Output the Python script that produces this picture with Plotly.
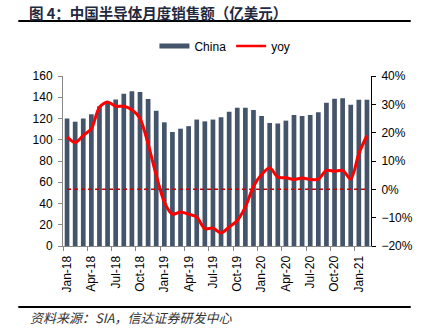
import plotly.graph_objects as go

months = ["Jan-18","Feb-18","Mar-18","Apr-18","May-18","Jun-18","Jul-18","Aug-18","Sep-18","Oct-18","Nov-18","Dec-18",
          "Jan-19","Feb-19","Mar-19","Apr-19","May-19","Jun-19","Jul-19","Aug-19","Sep-19","Oct-19","Nov-19","Dec-19",
          "Jan-20","Feb-20","Mar-20","Apr-20","May-20","Jun-20","Jul-20","Aug-20","Sep-20","Oct-20","Nov-20","Dec-20",
          "Jan-21","Feb-21"]
china = [120, 117, 120, 124, 131.5, 135, 138, 143.4, 145.6, 145, 138.4, 127.4,
         116.4, 107.3, 110.4, 112.8, 119, 117.3, 119, 121.1, 126.4, 130.2, 130.2, 128,
         122.4, 115.8, 115.3, 118, 123.3, 122.4, 123.3, 125.8, 134.9, 138.7, 139, 133,
         137.7, 137.7]
yoy = [18.5, 16.5, 19, 21.4, 29, 30.8, 29.3, 29.3, 28.1, 25, 16, 5,
       -4.5, -8.8, -8, -8.8, -9.8, -13.9, -13.7, -15.4, -13.3, -11, -6.2, 1,
       5.2, 7.6, 4.3, 4.1, 3.5, 4.0, 3.5, 3.6, 6.7, 6.4, 6.7, 3.6,
       12.6, 19]
zero_ref = [0] * len(months)

idx = list(range(len(months)))
label_idx = idx[::3]
label_txt = [months[i] for i in label_idx]
boundaries = [i - 0.5 for i in label_idx]

BAR = "#44546A"
RED = "#FF0000"
FONT = "Liberation Sans, Arial, sans-serif"
CJK = "Noto Sans CJK SC, sans-serif"

fig = go.Figure()
fig.add_trace(go.Bar(x=idx, y=china, name="China", marker=dict(color=BAR, line=dict(width=0)),
                     showlegend=False, yaxis="y"))
fig.add_trace(go.Scatter(x=idx, y=zero_ref, mode="lines", yaxis="y2", showlegend=False,
                         line=dict(color="#C00000", width=1.5, dash="4px,3px")))
fig.add_trace(go.Scatter(x=idx, y=yoy, mode="lines", yaxis="y2", showlegend=False,
                         line=dict(color=RED, width=3, shape="spline", smoothing=0.8)))
# legend entries
fig.add_trace(go.Scatter(x=[None], y=[None], mode="lines", name="China",
                         line=dict(color=BAR, width=5)))
fig.add_trace(go.Scatter(x=[None], y=[None], mode="lines", name="yoy",
                         line=dict(color=RED, width=2.5)))

W, H = 425, 334
L, R, T, B = 63, 52, 76, 88
pw, ph = W - L - R, H - T - B
def px(x):
    return (x - L) / pw
def py(y):
    return (H - B - y) / ph

fig.update_layout(
    width=W, height=H,
    margin=dict(l=L, r=R, t=T, b=B, pad=0),
    paper_bgcolor="white", plot_bgcolor="white",
    font=dict(family=FONT, size=12, color="#000000"),
    bargap=0.42,
    xaxis=dict(range=[-0.5, len(months) - 0.5], tickmode="array", tickvals=label_idx, ticktext=label_txt,
               tickangle=-90, ticks="outside", ticklen=4, tickcolor="rgba(0,0,0,0)",
               showline=True, linecolor="#888888", linewidth=1, showgrid=False, zeroline=False,
               tickfont=dict(size=12, family=FONT),
               minor=dict(tickmode="array", tickvals=boundaries, ticks="outside", ticklen=4,
                          tickcolor="#888888", showgrid=False)),
    yaxis=dict(range=[0, 160], dtick=20, ticks="outside", ticklen=4, tickcolor="#888888",
               showline=True, linecolor="#888888", linewidth=1, showgrid=False, zeroline=False,
               ticklabelstandoff=3, tickfont=dict(size=12, family=FONT)),
    yaxis2=dict(range=[-20, 40], dtick=10, ticksuffix="%", overlaying="y", side="right",
                ticks="outside", ticklen=4, tickcolor="#000000",
                showline=True, linecolor="#000000", linewidth=1, showgrid=False, zeroline=False,
                ticklabelstandoff=3, tickfont=dict(size=12, family=FONT)),
    legend=dict(orientation="h", x=px(226), xanchor="center", y=py(46), yanchor="middle",
                font=dict(size=12, family=FONT), itemwidth=30, bgcolor="rgba(0,0,0,0)"),
    showlegend=True,
)

fig.add_annotation(text="<b>图 4：中国半导体月度销售额（亿美元）</b>", xref="paper", yref="paper",
                   x=px(27), y=py(12), xanchor="left", yanchor="middle", showarrow=False,
                   font=dict(family=CJK, size=14.5, color="#1F2940"))
fig.add_annotation(text="<i>资料来源：SIA，信达证券研发中心</i>", xref="paper", yref="paper",
                   x=px(28), y=py(317), xanchor="left", yanchor="middle", showarrow=False,
                   font=dict(family=CJK, size=13, color="#333333"))
fig.add_shape(type="line", xref="paper", yref="paper", x0=px(18), x1=px(413), y0=py(21), y1=py(21),
              line=dict(color="#000000", width=2))
fig.add_shape(type="line", xref="paper", yref="paper", x0=px(18), x1=px(413), y0=py(307), y1=py(307),
              line=dict(color="#000000", width=2))

fig.write_html("out.html")
